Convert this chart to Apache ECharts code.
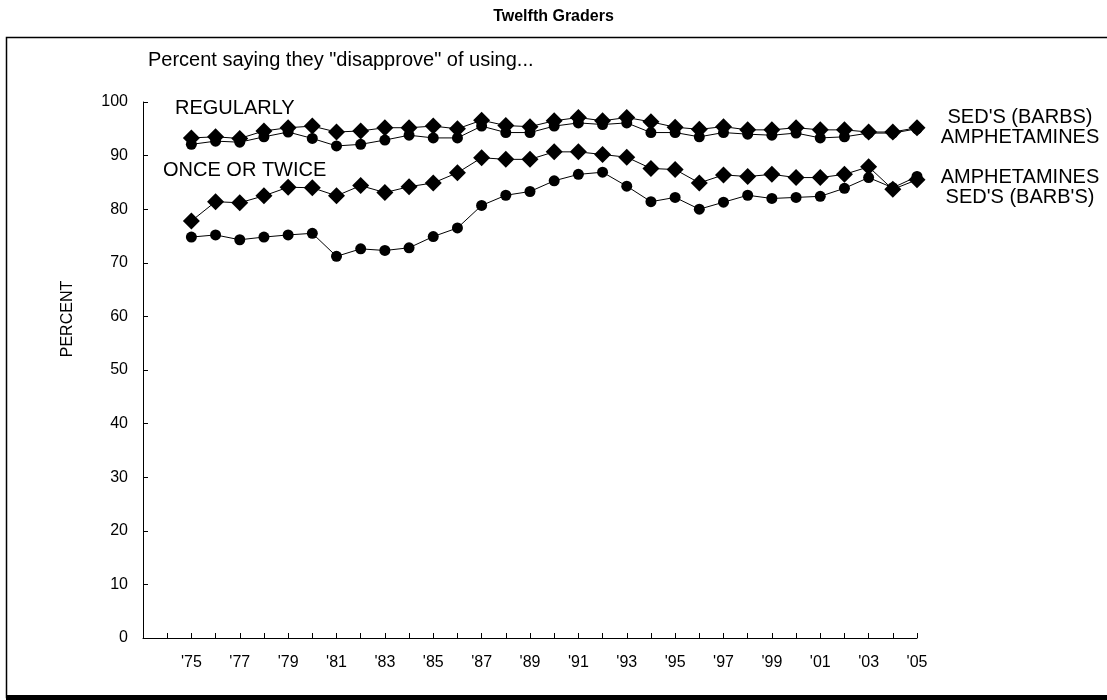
<!DOCTYPE html>
<html>
<head>
<meta charset="utf-8">
<script src="https://cdn.jsdelivr.net/npm/echarts@6/dist/echarts.min.js"></script>
<style>html,body{margin:0;padding:0;background:#fff}#c{width:1107px;height:700px}</style>
</head>
<body>
<div id="c"></div>
<script>
const years = [1975,1976,1977,1978,1979,1980,1981,1982,1983,1984,1985,1986,1987,1988,1989,1990,1991,1992,1993,1994,1995,1996,1997,1998,1999,2000,2001,2002,2003,2004,2005];
const sedRegularly = [93.3,93.5,93.2,94.6,95.2,95.5,94.4,94.6,95.2,95.2,95.5,95.0,96.6,95.6,95.4,96.5,97.1,96.5,97.1,96.3,95.3,94.9,95.4,94.8,94.8,95.2,94.8,94.8,94.4,94.4,95.2];
const ampRegularly = [92.1,92.7,92.5,93.5,94.4,93.2,91.8,92.1,92.9,93.8,93.3,93.3,95.5,94.3,94.3,95.5,96.1,95.8,96.1,94.3,94.3,93.5,94.3,94.0,93.8,94.2,93.3,93.5,94.2,94.2,95.0];
const sedOnce = [77.8,81.4,81.2,82.5,84.1,84.0,82.5,84.4,83.1,84.2,84.9,86.8,89.6,89.3,89.3,90.7,90.7,90.2,89.7,87.6,87.4,84.9,86.4,86.1,86.5,85.9,85.9,86.5,87.9,83.7,85.5];
const ampOnce = [74.8,75.2,74.3,74.8,75.2,75.5,71.2,72.6,72.3,72.8,74.9,76.5,80.7,82.6,83.3,85.3,86.5,86.9,84.3,81.4,82.2,80.0,81.3,82.6,82.0,82.2,82.4,83.9,85.9,84.0,86.1];
const yTicks = [0,10,20,30,40,50,60,70,80,90,100];

const pairs = v => years.map((y,i)=>[y,v[i]]);
const font = '"Liberation Sans", Arial, sans-serif';
const lineStyle = {color:'#000', width:1};
function mk(name, data, sym, size){
  return {name, type:'line', data:pairs(data), symbol:sym, symbolSize:size,
    itemStyle:{color:'#000'}, lineStyle, animation:false, z: sym==='diamond'?3:2};
}
const chart = echarts.init(document.getElementById('c'), null, {renderer:'canvas'});
chart.setOption({
  backgroundColor:'#fff',
  animation:false,
  grid:{left:143, right:190, top:102, bottom:62},
  title:[
    {text:'Twelfth Graders', left:'center', top:4, textStyle:{fontFamily:font, fontSize:16, fontWeight:'bold', color:'#000'}}
  ],
  xAxis:{type:'value', min:1973, max:2005, interval:1,
    axisLine:{lineStyle:{color:'#000', width:1}},
    axisTick:{inside:true, length:5, lineStyle:{color:'#000'}},
    splitLine:{show:false},
    axisLabel:{color:'#000', fontFamily:font, fontSize:16, margin:17,
      formatter:v=> (v>=1975 && v%2===1) ? "'" + String(v).slice(2) : ''}},
  yAxis:{type:'value', min:0, max:100, interval:10,
    axisLine:{show:true, lineStyle:{color:'#000', width:1}},
    axisTick:{show:true, inside:true, length:5, lineStyle:{color:'#000'}},
    splitLine:{show:false},
    axisLabel:{color:'#000', fontFamily:font, fontSize:16, margin:15,
      formatter:v=> yTicks.includes(v) ? String(v) : ''}},
  series:[
    mk("SED'S (BARBS) regularly", sedRegularly, 'diamond', 17),
    mk('AMPHETAMINES regularly', ampRegularly, 'circle', 11),
    mk("SED'S (BARB'S) once", sedOnce, 'diamond', 17),
    mk('AMPHETAMINES once', ampOnce, 'circle', 11)
  ],
  graphic:[
    {type:'rect', shape:{x:6.5, y:37.5, width:1110, height:660}, style:{fill:null, stroke:'#000', lineWidth:1.5}, silent:true},
    {type:'rect', shape:{x:6, y:695, width:1110, height:5}, style:{fill:'#000'}, silent:true},
    {type:'text', x:148, y:60, style:{text:'Percent saying they "disapprove" of using...', font:'20px '+font, fill:'#000', textVerticalAlign:'middle'}},
    {type:'text', x:68, y:319, rotation:Math.PI/2, style:{text:'PERCENT', font:'16px '+font, fill:'#000', textAlign:'center', textVerticalAlign:'middle'}},
    {type:'text', x:175, y:108, style:{text:'REGULARLY', font:'20px '+font, fill:'#000', textVerticalAlign:'middle'}},
    {type:'text', x:163, y:170, style:{text:'ONCE OR TWICE', font:'20px '+font, fill:'#000', textVerticalAlign:'middle'}},
    {type:'text', x:1020, y:117.5, style:{text:"SED'S (BARBS)", font:'20px '+font, fill:'#000', textAlign:'center', textVerticalAlign:'middle'}},
    {type:'text', x:1020, y:137.5, style:{text:"AMPHETAMINES", font:'20px '+font, fill:'#000', textAlign:'center', textVerticalAlign:'middle'}},
    {type:'text', x:1020, y:177.5, style:{text:"AMPHETAMINES", font:'20px '+font, fill:'#000', textAlign:'center', textVerticalAlign:'middle'}},
    {type:'text', x:1020, y:197.5, style:{text:"SED'S (BARB'S)", font:'20px '+font, fill:'#000', textAlign:'center', textVerticalAlign:'middle'}}
  ]
});
</script>
</body>
</html>
